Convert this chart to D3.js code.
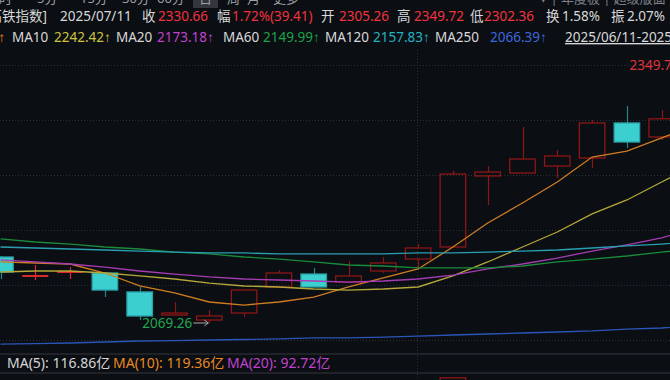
<!DOCTYPE html>
<html lang="zh-CN">
<head>
    <meta charset="UTF-8">
    <title>K线</title>
    <script src="https://cdn.jsdelivr.net/npm/d3@7"></script>
    <style>
        html, body {
            margin: 0;
            padding: 0;
            background: #0b0e13;
            overflow: hidden;
        }

        svg {
            display: block;
            font-family: "Noto Sans", "Noto Sans CJK SC", sans-serif;
        }

        .grid line {
            stroke: #2a2e36;
            stroke-width: 1;
            stroke-dasharray: 1, 2;
        }

        .ma path {
            fill: none;
            stroke-width: 1.3;
        }

        .arrow {
            font-family: "Liberation Sans", "DejaVu Sans", sans-serif;
        }
    </style>
</head>
<body>
<svg width="670" height="380"></svg>

<script>
    // trading days shown (last one is off the right edge)
    var dates = ["06/13", "06/16", "06/17", "06/18", "06/19", "06/20", "06/23", "06/24", "06/25", "06/26",
        "06/27", "06/30", "07/01", "07/02", "07/03", "07/04", "07/07", "07/08", "07/09", "07/10", "07/11"];

    var opens = [2141.0, 2120.2, 2124.6, 2123.6, 2103.0, 2078.0, 2072.5, 2080.1, 2108.4, 2122.5,
        2113.8, 2125.8, 2138.8, 2151.9, 2229.1, 2232.3, 2239.9, 2248.6, 2286.7, 2271.5, 2305.26];
    var highs = [2142.0, 2132.3, 2130.1, 2123.6, 2108.4, 2092.1, 2083.4, 2105.1, 2126.9, 2129.1,
        2136.7, 2141.0, 2155.1, 2234.5, 2239.9, 2282.3, 2257.3, 2289.9, 2305.2, 2300.8, 2349.72];
    var lows = [2117.1, 2116.0, 2117.1, 2097.5, 2072.5, 2077.6, 2069.26, 2075.8, 2108.4, 2108.4,
        2113.6, 2123.6, 2126.9, 2151.9, 2197.5, 2232.3, 2226.9, 2237.8, 2259.5, 2268.2, 2302.36];
    var closes = [2124.7, 2120.5, 2124.8, 2105.1, 2076.9, 2080.1, 2076.9, 2105.1, 2123.6, 2108.4,
        2120.4, 2134.5, 2150.8, 2231.2, 2233.4, 2247.5, 2250.8, 2286.7, 2266.0, 2291.25, 2330.66];

    var ma5 = [2135.6, 2134.5, 2133.4, 2123.6, 2109.5, 2101.9, 2092.1, 2088.8, 2092.1, 2097.5,
        2108.4, 2118.2, 2128.0, 2151.9, 2178.0, 2199.7, 2222.5, 2249.7, 2256.2, 2270.4, 2285.12];
    var ma10 = [2124.7, 2125.8, 2125.8, 2123.6, 2120.4, 2117.1, 2112.7, 2109.5, 2108.4, 2106.2,
        2105.1, 2106.2, 2108.4, 2120.4, 2135.6, 2151.9, 2168.2, 2187.8, 2203.0, 2222.5, 2242.42];
    var ma20 = [2137.8, 2135.6, 2133.4, 2130.1, 2125.8, 2122.5, 2119.3, 2117.1, 2116.0, 2114.9,
        2113.8, 2114.9, 2117.1, 2121.4, 2128.0, 2133.4, 2139.9, 2147.5, 2154.1, 2161.7, 2173.18];
    var ma60 = [2160.6, 2157.3, 2155.1, 2151.9, 2149.7, 2146.4, 2144.3, 2141.0, 2138.8, 2135.6,
        2132.3, 2131.2, 2129.1, 2129.1, 2129.1, 2131.2, 2135.6, 2138.8, 2142.1, 2146.4, 2149.99];
    var ma120 = [2151.9, 2150.8, 2149.7, 2148.6, 2147.5, 2146.4, 2145.4, 2145.4, 2144.3, 2144.3,
        2144.3, 2144.3, 2145.4, 2145.4, 2146.4, 2147.5, 2148.6, 2150.8, 2153.0, 2155.1, 2157.83];
    var ma250 = [2046.4, 2046.9, 2047.5, 2048.6, 2049.7, 2050.2, 2050.8, 2051.3, 2051.9, 2053.0,
        2053.0, 2054.0, 2055.1, 2056.2, 2057.3, 2058.4, 2059.5, 2060.6, 2062.7, 2063.8, 2066.39];

    // 成交额 (亿), only the tallest bar peeks into view
    var volumes = [62, 58, 55, 60, 66, 64, 57, 63, 68, 60,
        58, 85, 95, 200, 150, 130, 110, 125, 115, 105, 128];

    var maNames = ["MA5", "MA10", "MA20", "MA60", "MA120", "MA250"];
    var maColors = ["#cf7d22", "#b5a83a", "#a63cb3", "#1b8a3c", "#2a9fb2", "#2b55b8"];
    var maTextColors = ["#e88a20", "#cfc23e", "#c042cf", "#1da146", "#22b3c2", "#3b68dc"];

    // header texts
    var tabLabels = ["分时", "5分", "15分", "30分", "60分", "日", "周", "月", "更多"];
    var tabX = [-14, 37, 80, 122, 157, 199, 227, 247, 273];
    var infoLabels = ["2025/07/11", "收", "2330.66", "幅", "1.72%(39.41)", "开", "2305.26",
        "高", "2349.72", "低", "2302.36", "换", "1.58%", "振", "2.07%"];
    var infoX = [60, 142, 158, 217, 232, 321, 339, 397, 414, 470, 484, 546, 562, 611, 627];
    var infoRed = [false, false, true, false, true, false, true, false, true, false, true, false, false, false, false];
    var maLabelX = [12, 116, 223, 325, 435];
    var maValueX = [54, 157, 263, 373, 490];
    var volLabels = ["MA(5): 116.86亿", "MA(10): 119.36亿", "MA(20): 92.72亿"];
    var volColors = ["#d6d6d6", "#e88a20", "#c042cf"];
    var volX = [7, 113, 227];

    var svg = d3.select("svg"),
        width = +svg.attr("width"),
        height = +svg.attr("height");

    var white = "#d8d8d8",
        red = "#f0333d",
        upColor = "#8e1616",
        flatColor = "#d8292b",
        downFill = "#3ccfcf",
        downStroke = "#2aa2a6",
        downWick = "#23868c";

    var x = d3.scaleBand()
        .domain(dates)
        .range([-16.9, 713.9])
        .padding(0);

    var y = d3.scaleLinear()
        .domain([2069.26, 2349.72])
        .range([323, 65]);

    var yVol = d3.scaleLinear()
        .domain([0, 205])
        .range([450, 376]);

    function cx(d) {
        return x(d) + x.bandwidth() / 2;
    }

    var bars = dates.map(function (d, i) {
        return {date: d, open: opens[i], high: highs[i], low: lows[i], close: closes[i], vol: volumes[i]};
    });

    // grid
    var grid = svg.append("g").attr("class", "grid");
    grid.selectAll("line.h")
        .data(d3.range(6))
        .enter()
        .append("line")
        .attr("class", "h")
        .attr("x1", 0)
        .attr("x2", width)
        .attr("y1", function (i) {
            return 65 + i * 55 + 0.5;
        })
        .attr("y2", function (i) {
            return 65 + i * 55 + 0.5;
        });

    // month separator (first day of July)
    grid.append("line")
        .attr("x1", Math.round(cx("07/01")) - 0.5)
        .attr("x2", Math.round(cx("07/01")) - 0.5)
        .attr("y1", 50)
        .attr("y2", height);

    // panel separators at bottom
    svg.selectAll("line.sep")
        .data([354, 373])
        .enter()
        .append("line")
        .attr("class", "sep")
        .attr("x1", 0)
        .attr("x2", width)
        .attr("y1", function (d) {
            return d;
        })
        .attr("y2", function (d) {
            return d;
        })
        .attr("stroke", "#1f2228")
        .attr("stroke-width", 2);

    // volume bars
    svg.append("g")
        .selectAll("rect")
        .data(bars)
        .enter()
        .append("rect")
        .attr("x", function (d) {
            return cx(d.date) - 12.75;
        })
        .attr("width", 25.5)
        .attr("y", function (d) {
            return yVol(d.vol);
        })
        .attr("height", function (d) {
            return yVol(0) - yVol(d.vol);
        })
        .attr("fill", function (d) {
            return d.close >= d.open ? "none" : downFill;
        })
        .attr("stroke", function (d) {
            return d.close >= d.open ? upColor : downStroke;
        })
        .attr("stroke-width", 1.3);

    // candles
    var candle = svg.append("g")
        .attr("class", "candles")
        .selectAll("g")
        .data(bars)
        .enter()
        .append("g");

    function isFlat(d) {
        return Math.abs(y(d.open) - y(d.close)) < 1;
    }

    function candleColor(d) {
        if (isFlat(d)) return flatColor;
        return d.close >= d.open ? upColor : downWick;
    }

    // upper wick
    candle.append("line")
        .attr("x1", function (d) {
            return Math.round(cx(d.date)) + 0.5;
        })
        .attr("x2", function (d) {
            return Math.round(cx(d.date)) + 0.5;
        })
        .attr("y1", function (d) {
            return y(d.high);
        })
        .attr("y2", function (d) {
            return y(Math.max(d.open, d.close));
        })
        .attr("stroke", candleColor)
        .attr("stroke-width", 1.2);

    // lower wick
    candle.append("line")
        .attr("x1", function (d) {
            return Math.round(cx(d.date)) + 0.5;
        })
        .attr("x2", function (d) {
            return Math.round(cx(d.date)) + 0.5;
        })
        .attr("y1", function (d) {
            return y(Math.min(d.open, d.close));
        })
        .attr("y2", function (d) {
            return y(d.low);
        })
        .attr("stroke", candleColor)
        .attr("stroke-width", 1.2);

    // bodies
    candle.filter(function (d) {
        return !isFlat(d);
    })
        .append("rect")
        .attr("x", function (d) {
            return cx(d.date) - 12.75;
        })
        .attr("width", 25.5)
        .attr("y", function (d) {
            return y(Math.max(d.open, d.close));
        })
        .attr("height", function (d) {
            return Math.abs(y(d.open) - y(d.close));
        })
        .attr("fill", function (d) {
            return d.close >= d.open ? "none" : downFill;
        })
        .attr("stroke", function (d) {
            return d.close >= d.open ? upColor : downStroke;
        })
        .attr("stroke-width", 1.3);

    // doji-like days as a flat bar
    candle.filter(isFlat)
        .append("line")
        .attr("x1", function (d) {
            return cx(d.date) - 13;
        })
        .attr("x2", function (d) {
            return cx(d.date) + 13;
        })
        .attr("y1", function (d) {
            return y((d.open + d.close) / 2);
        })
        .attr("y2", function (d) {
            return y((d.open + d.close) / 2);
        })
        .attr("stroke", flatColor)
        .attr("stroke-width", 2);

    // moving averages
    var maSeries = [ma5, ma10, ma20, ma60, ma120, ma250];
    var line = d3.line()
        .x(function (d, i) {
            return cx(dates[i]);
        })
        .y(function (d) {
            return y(d);
        });

    svg.append("g")
        .attr("class", "ma")
        .selectAll("path")
        .data(maSeries)
        .enter()
        .append("path")
        .attr("d", line)
        .attr("stroke", function (d, i) {
            return maColors[i];
        });

    // high / low markers
    function extremeLabel(idx, value, color) {
        var px = cx(dates[idx]),
            py = y(value);
        svg.append("text")
            .attr("x", px - 17)
            .attr("y", py)
            .attr("dy", "0.36em")
            .attr("text-anchor", "end")
            .attr("font-size", 13.5)
            .attr("fill", color)
            .text(value.toFixed(2));
        svg.append("path")
            .attr("d", "M" + (px - 16) + "," + py + "H" + (px - 1) +
                "M" + (px - 5) + "," + (py - 3) + "L" + (px - 1) + "," + py + "L" + (px - 5) + "," + (py + 3))
            .attr("fill", "none")
            .attr("stroke", "#a8a8a8")
            .attr("stroke-width", 1);
    }

    var lowIdx = d3.minIndex(lows),
        highIdx = d3.maxIndex(highs);
    extremeLabel(lowIdx, lows[lowIdx], "#1fa74f");
    extremeLabel(highIdx, highs[highIdx], "#e0323a");

    // tab bar (only lower part visible)
    var tabs = svg.append("g").attr("font-size", 13).attr("fill", "#9da0a6");
    tabs.append("rect")
        .attr("x", 193)
        .attr("y", 0)
        .attr("width", 25)
        .attr("height", 8)
        .attr("fill", "#33363c");
    tabs.selectAll("text")
        .data(tabLabels)
        .enter()
        .append("text")
        .attr("x", function (d, i) {
            return tabX[i];
        })
        .attr("y", 3)
        .text(function (d) {
            return d;
        });
    tabs.append("text")
        .attr("x", 540)
        .attr("y", 3)
        .attr("fill", "#7d8086")
        .text("▾ | 年度板 | 超级版面");

    // info row
    var info = svg.append("g").attr("font-size", 13.5);
    info.append("text")
        .attr("x", 47)
        .attr("y", 21)
        .attr("text-anchor", "end")
        .attr("fill", white)
        .text("[高铁指数]");
    info.selectAll("text.v")
        .data(infoLabels)
        .enter()
        .append("text")
        .attr("class", "v")
        .attr("x", function (d, i) {
            return infoX[i];
        })
        .attr("y", 21)
        .attr("fill", function (d, i) {
            return infoRed[i] ? red : white;
        })
        .text(function (d) {
            return d;
        });

    // MA legend row
    function maValue(sel, s) {
        sel.append("tspan").text(s[s.length - 1].toFixed(2));
        sel.append("tspan").attr("class", "arrow").text("↑");
    }

    var legend = svg.append("g").attr("font-size", 13.5);
    legend.append("text")
        .attr("x", 5)
        .attr("y", 42)
        .attr("text-anchor", "end")
        .attr("fill", maTextColors[0])
        .call(maValue, ma5);
    maSeries.slice(1).forEach(function (s, k) {
        legend.append("text")
            .attr("x", maLabelX[k])
            .attr("y", 42)
            .attr("fill", white)
            .text(maNames[k + 1]);
        legend.append("text")
            .attr("x", maValueX[k])
            .attr("y", 42)
            .attr("fill", maTextColors[k + 1])
            .call(maValue, s);
    });
    legend.append("text")
        .attr("x", 565)
        .attr("y", 42)
        .attr("fill", white)
        .attr("text-decoration", "underline")
        .text("2025/06/11-2025/07/11");

    // volume MA row
    svg.append("g")
        .attr("font-size", 14)
        .selectAll("text")
        .data(volLabels)
        .enter()
        .append("text")
        .attr("x", function (d, i) {
            return volX[i];
        })
        .attr("y", 368)
        .attr("fill", function (d, i) {
            return volColors[i];
        })
        .text(function (d) {
            return d;
        });
</script>
</body>
</html>
